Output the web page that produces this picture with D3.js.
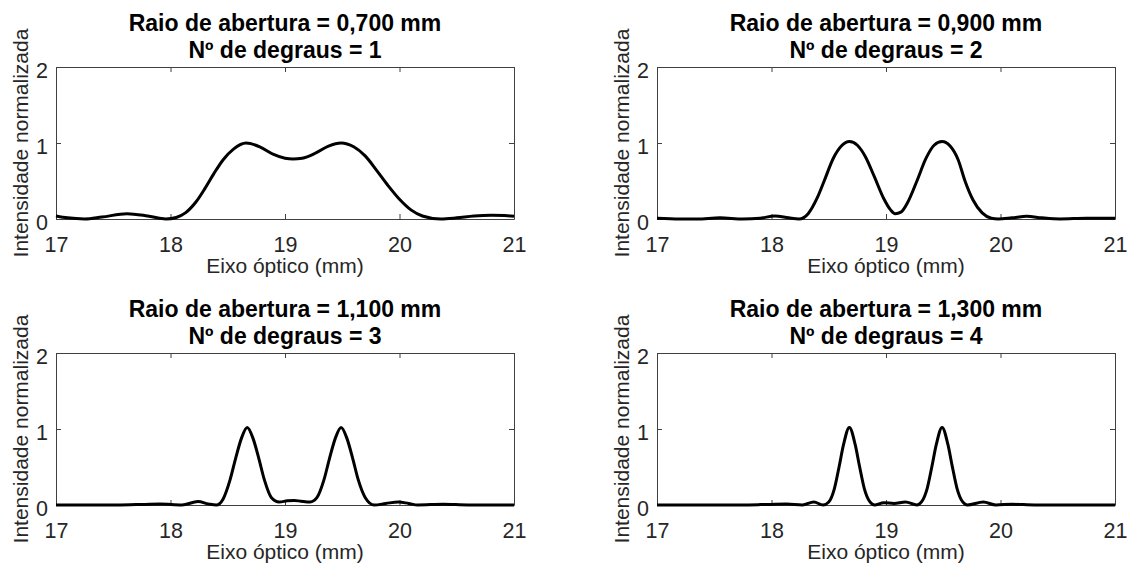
<!DOCTYPE html>
<html>
<head>
<meta charset="utf-8">
<script src="https://cdn.jsdelivr.net/npm/d3@7"></script>
<style>
  body { margin: 0; background: #fff; }
  svg { display: block; font-family: "Liberation Sans", Arial, sans-serif; }
  .tick text { fill: #262626; font-size: 21.5px; }
  .axis-label { fill: #262626; font-size: 21px; }
  .title { fill: #000; font-size: 23px; font-weight: bold; }
</style>
</head>
<body>
<svg id="chart"></svg>
<script>
// Panel titles
const radii = ["0,700", "0,900", "1,100", "1,300"];
const steps = [1, 2, 3, 4];

// Tick values
const xTicks = [17, 18, 19, 20, 21];
const yTicks = [0, 1, 2];

// Curve samples (x in mm, normalized intensity)
const x1 = [17.00, 17.10, 17.25, 17.40, 17.62, 17.80, 17.96, 18.05, 18.13, 18.22, 18.30, 18.38, 18.46, 18.55, 18.66,
            18.78, 18.90, 19.00, 19.07, 19.15, 19.27, 19.38, 19.49, 19.60, 19.70, 19.80, 19.90, 20.00, 20.10, 20.20,
            20.36, 20.50, 20.65, 20.80, 20.92, 21.00];
const y1 = [0.04, 0.015, 0.00, 0.025, 0.07, 0.04, 0.00, 0.02, 0.08, 0.22, 0.40, 0.60, 0.78, 0.92, 1.00,
            0.95, 0.85, 0.80, 0.79, 0.80, 0.87, 0.96, 1.00, 0.95, 0.83, 0.64, 0.44, 0.26, 0.12, 0.04,
            0.00, 0.015, 0.04, 0.05, 0.045, 0.035];

const x2 = [17.00, 17.20, 17.35, 17.55, 17.75, 17.90, 18.03, 18.15, 18.24, 18.32, 18.40, 18.46, 18.54, 18.61, 18.68,
            18.75, 18.82, 18.90, 18.98, 19.04, 19.08, 19.13, 19.19, 19.27, 19.35, 19.42, 19.49, 19.56, 19.63, 19.69,
            19.76, 19.84, 19.92, 19.98, 20.10, 20.23, 20.36, 20.52, 20.75, 21.00];
const y2 = [0.01, 0.00, 0.00, 0.015, 0.00, 0.01, 0.04, 0.015, 0.00, 0.07, 0.28, 0.50, 0.80, 0.96, 1.02,
            0.97, 0.82, 0.55, 0.27, 0.12, 0.07, 0.09, 0.22, 0.50, 0.80, 0.97, 1.02, 0.96, 0.78, 0.50,
            0.25, 0.08, 0.01, 0.00, 0.015, 0.035, 0.015, 0.00, 0.01, 0.01];

const x3 = [17.00, 17.50, 17.70, 17.91, 18.10, 18.24, 18.33, 18.40, 18.46, 18.52, 18.57, 18.62, 18.67, 18.72, 18.77,
            18.82, 18.88, 18.95, 19.02, 19.08, 19.14, 19.22, 19.28, 19.34, 19.39, 19.44, 19.49, 19.54, 19.59, 19.64,
            19.70, 19.78, 19.88, 19.99, 20.08, 20.16, 20.38, 20.60, 21.00];
const y3 = [0.00, 0.00, 0.005, 0.012, 0.00, 0.045, 0.015, 0.00, 0.08, 0.33, 0.62, 0.88, 1.02, 0.88, 0.62,
            0.33, 0.10, 0.04, 0.055, 0.06, 0.05, 0.04, 0.10, 0.33, 0.62, 0.88, 1.02, 0.88, 0.62, 0.33,
            0.10, 0.00, 0.02, 0.04, 0.02, 0.00, 0.01, 0.00, 0.00];

const x4 = [17.00, 17.60, 17.90, 18.13, 18.27, 18.37, 18.45, 18.50, 18.55, 18.59, 18.63, 18.68, 18.73, 18.77, 18.81,
            18.86, 18.90, 18.98, 19.07, 19.17, 19.27, 19.31, 19.36, 19.40, 19.44, 19.49, 19.54, 19.58, 19.62, 19.67,
            19.71, 19.85, 19.96, 20.10, 20.30, 21.00];
const y4 = [0.00, 0.00, 0.005, 0.012, 0.00, 0.04, 0.00, 0.04, 0.22, 0.50, 0.80, 1.02, 0.80, 0.50, 0.22,
            0.04, 0.00, 0.03, 0.02, 0.04, 0.00, 0.04, 0.22, 0.50, 0.80, 1.02, 0.80, 0.50, 0.22, 0.04,
            0.00, 0.04, 0.00, 0.01, 0.00, 0.00];

const seriesX = [x1, x2, x3, x4];
const seriesY = [y1, y2, y3, y4];

// Layout
const width = 1133, height = 573;
const plotW = 458, plotH = 152;
const lefts = [56, 657, 56, 657];
const tops = [67, 67, 353, 353];

const svg = d3.select("#chart")
    .attr("width", width)
    .attr("height", height);

const x = d3.scaleLinear().domain([17, 21]).range([0, plotW]);
const y = d3.scaleLinear().domain([0, 2]).range([plotH, 0]);

const line = d3.line()
    .x(d => x(d[0]))
    .y(d => y(d[1]))
    .curve(d3.curveMonotoneX);

for (let i = 0; i < 4; i++) {
    const g = svg.append("g")
        .attr("transform", `translate(${lefts[i]},${tops[i]})`);

    // Box: top and right axes, ticks only
    g.append("g")
        .call(d3.axisTop(x).tickValues(xTicks).tickSizeInner(-5).tickSizeOuter(0).tickFormat(""));
    g.append("g")
        .attr("transform", `translate(${plotW},0)`)
        .call(d3.axisRight(y).tickValues(yTicks).tickSizeInner(-5).tickSizeOuter(0).tickFormat(""));

    // Bottom axis
    g.append("g")
        .attr("transform", `translate(0,${plotH})`)
        .call(d3.axisBottom(x).tickValues(xTicks).tickFormat(d3.format("d"))
            .tickSizeInner(-5).tickSizeOuter(0).tickPadding(18));

    // Left axis
    g.append("g")
        .call(d3.axisLeft(y).tickValues(yTicks).tickFormat(d3.format("d"))
            .tickSizeInner(-5).tickSizeOuter(0).tickPadding(8))
        .selectAll(".tick text").attr("dy", "0.5em");

    g.selectAll(".domain").attr("stroke", "#404040");
    g.selectAll(".tick line").attr("stroke", "#404040");

    // Curve
    const pts = seriesX[i].map((v, k) => [v, seriesY[i][k]]);
    g.append("path")
        .datum(pts)
        .attr("fill", "none")
        .attr("stroke", "#000")
        .attr("stroke-width", 3)
        .attr("stroke-linejoin", "round")
        .attr("d", line);

    // Titles
    g.append("text")
        .attr("class", "title")
        .attr("x", plotW / 2)
        .attr("y", -36)
        .attr("text-anchor", "middle")
        .text(`Raio de abertura = ${radii[i]} mm`);
    g.append("text")
        .attr("class", "title")
        .attr("x", plotW / 2)
        .attr("y", -9)
        .attr("text-anchor", "middle")
        .text(`Nº de degraus = ${steps[i]}`);

    // Axis labels
    g.append("text")
        .attr("class", "axis-label")
        .attr("x", plotW / 2)
        .attr("y", plotH + 54)
        .attr("text-anchor", "middle")
        .text("Eixo óptico (mm)");
    g.append("text")
        .attr("class", "axis-label")
        .attr("transform", `translate(-28,${plotH / 2}) rotate(-90)`)
        .attr("text-anchor", "middle")
        .text("Intensidade normalizada");
}
</script>
</body>
</html>
